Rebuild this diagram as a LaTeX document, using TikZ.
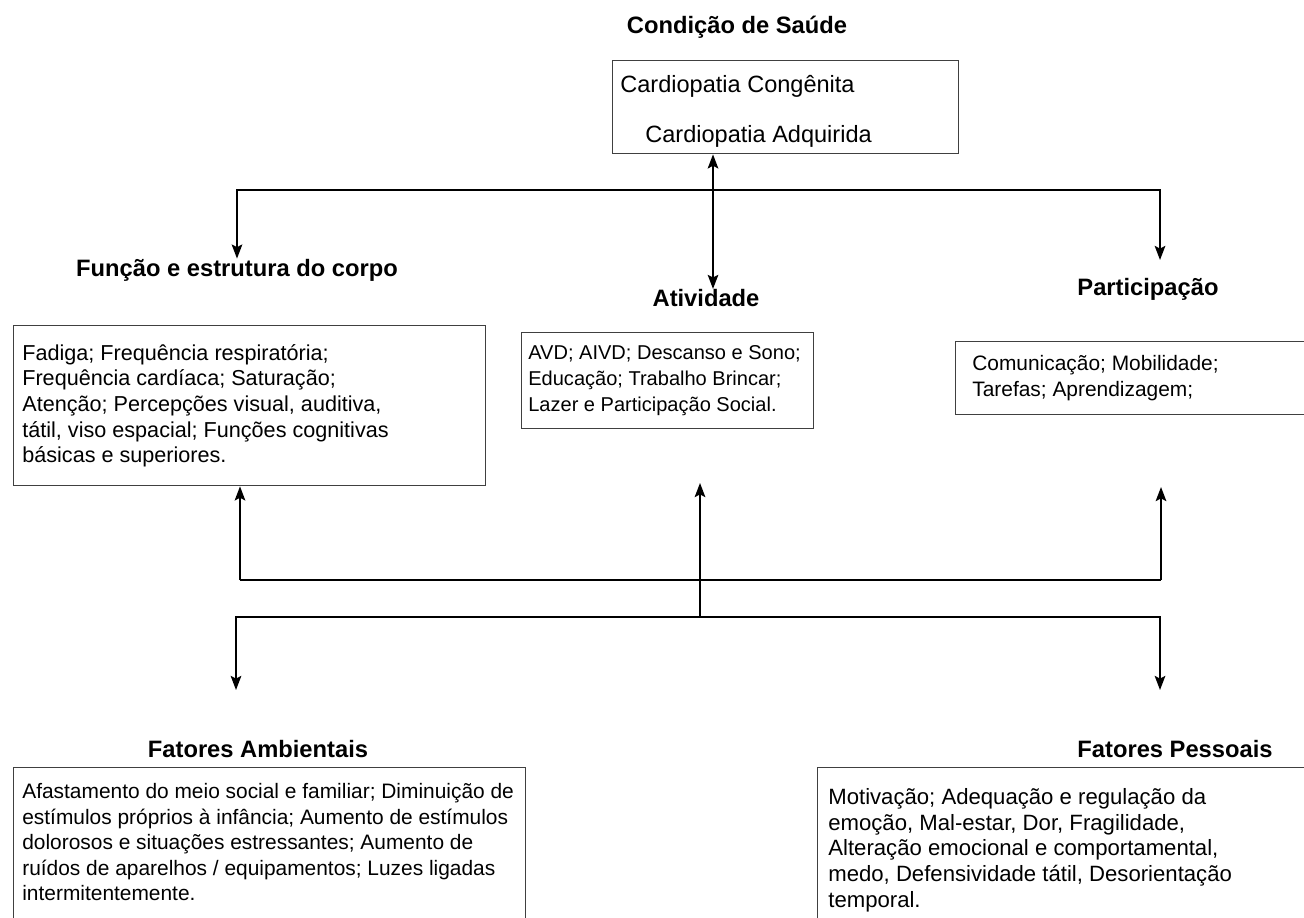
\documentclass[tikz,border=0pt]{standalone}
\usepackage{fontspec}
\setmainfont{Liberation Sans}
\usetikzlibrary{shapes,arrows,arrows.meta,positioning}

\begin{document}
\begin{tikzpicture}[x=0.02cm,y=-0.02cm]
\tikzstyle{every node}=[font=\fontsize{11.9}{14.6}\selectfont, inner sep=0pt]
\tikzstyle{titulo}=[font=\fontsize{13.5}{16}\selectfont\bfseries]
\tikzstyle{quadro}=[draw=black!75, line width=0.8pt, anchor=north west]
\tikzstyle{texto}=[align=left, anchor=west]
\tikzstyle{linha}=[draw, line width=1.1pt]
\tikzstyle{seta}=[linha, -{Stealth[length=8pt,width=6pt,inset=1.5pt]}]
\path[use as bounding box, clip] (0,0) rectangle (1304,918);
\fill[white] (0,0) rectangle (1304,918);

\node[titulo] (tsaude) at (737,27) {Condição de Saúde};
\node[quadro, minimum width=6.92cm, minimum height=1.86cm] (saude) at (612,60) {};
\node[texto, font=\fontsize{13.4}{16}\selectfont] (cong) at (620,86) {Cardiopatia Congênita};
\node[texto, font=\fontsize{13.4}{16}\selectfont] (adq) at (645,136) {Cardiopatia Adquirida};

\node[titulo] (funtit) at (237,270) {Função e estrutura do corpo};
\node[titulo] (ativtit) at (706,298) {Atividade};
\node[titulo] (partit) at (1148,289) {Participação};

\node[quadro, minimum width=9.44cm, minimum height=3.2cm] (fis) at (13,325) {};
\node[texto, right=0.18cm of fis.west, font=\fontsize{12.3}{14.6}\selectfont] (fistxt) {Fadiga; Frequência respiratória;\\
Frequência cardíaca; Saturação;\\
Atenção; Percepções visual, auditiva,\\
tátil, viso espacial; Funções cognitivas\\
básicas e superiores.};

\node[quadro, minimum width=5.84cm, minimum height=1.92cm] (ativ) at (521,332) {};
\node[texto, right=0.14cm of ativ.west, font=\fontsize{11.4}{14.6}\selectfont] (ativtxt) {AVD; AIVD; Descanso e Sono;\\
Educação; Trabalho Brincar;\\
Lazer e Participação Social.};

\node[quadro, minimum width=7.3cm, minimum height=1.46cm] (part) at (955,341) {};
\node[texto, right=0.34cm of part.west] (parttxt) {Comunicação; Mobilidade;\\
Tarefas; Aprendizagem;};

\node[titulo] (ambtit) at (258,749) {Fatores Ambientais};
\node[titulo] (pestit) at (1175,749) {Fatores Pessoais};

\node[quadro, minimum width=10.24cm, minimum height=3.3cm] (amb) at (13,767) {};
\node[texto] (ambtxt) at ([xshift=0.18cm,yshift=0.16cm]amb.west) {Afastamento do meio social e familiar; Diminuição de\\
estímulos próprios à infância; Aumento de estímulos\\
dolorosos e situações estressantes; Aumento de\\
ruídos de aparelhos / equipamentos; Luzes ligadas\\
intermitentemente.};

\node[quadro, minimum width=10.2cm, minimum height=3.3cm] (pes) at (817,767) {};
\node[texto, font=\fontsize{12.6}{14.6}\selectfont] (pestxt) at ([xshift=0.22cm]pes.west) {Motivação; Adequação e regulação da\\
emoção, Mal-estar, Dor, Fragilidade,\\
Alteração emocional e comportamental,\\
medo, Defensividade tátil, Desorientação\\
temporal.};

\coordinate (jtop) at (713,190);
\coordinate (pfim) at (1160,260);
\draw[seta] (jtop) -| (funtit.north);
\draw[seta] (jtop) -| (pfim);
\draw[linha, {Stealth[length=8pt,width=6pt,inset=1.5pt]}-{Stealth[length=8pt,width=6pt,inset=1.5pt]}] (saude.south -| jtop) -- (ativtit.north -| jtop);

\coordinate (mesq) at (240,580);
\coordinate (mdir) at (1161,580);
\coordinate (pbase) at (1161,487);
\coordinate (jlow) at (700,617);
\coordinate (abase) at (700,483);
\coordinate (ambfim) at (236,690);
\coordinate (pesfim) at (1160,690);
\draw[linha] (mesq) -- (mdir);
\draw[seta] (mesq) -- (mesq |- fis.south);
\draw[seta] (mdir) -- (pbase);
\draw[seta] (jlow) -- (abase);
\draw[seta] (jlow) -| (ambfim);
\draw[seta] (jlow) -| (pesfim);
\end{tikzpicture}
\end{document}
